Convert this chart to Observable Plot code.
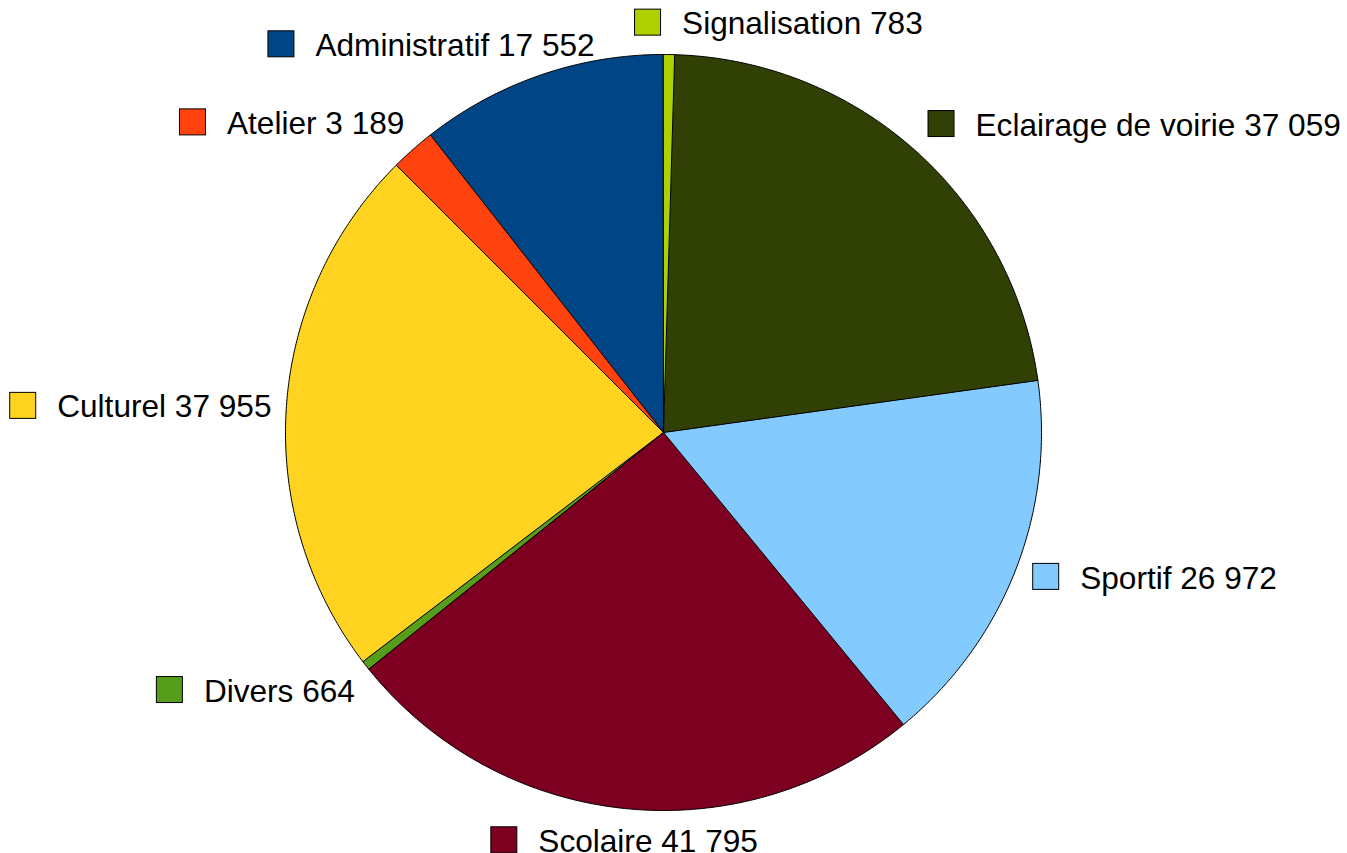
<!DOCTYPE html>
<html>
<head>
<meta charset="utf-8">
<script src="https://cdn.jsdelivr.net/npm/d3@7"></script>
<script src="https://cdn.jsdelivr.net/npm/@observablehq/plot@0.6"></script>
<style>
  html, body { margin: 0; padding: 0; background: #ffffff; }
  #chart { width: 1347px; height: 853px; }
</style>
</head>
<body>
<div id="chart"></div>
<script>
// ---- data (LibreOffice order: counter-clockwise from 12 o'clock) ----
const categories = ["Administratif", "Atelier", "Culturel", "Divers", "Scolaire", "Sportif", "Eclairage de voirie", "Signalisation"];
const values = [17552, 3189, 37955, 664, 41795, 26972, 37059, 783];
const colors = ["#004586", "#ff420e", "#ffd320", "#579d1c", "#7e0021", "#83caff", "#314004", "#aecf00"];

// ---- layout ----
const W = 1347, H = 853;
const CX = 663, CY = 432, R = 378;
const labelDist = 1.05;      // label anchor radius (in radii)
const sq = 26, gap = 21;     // legend square size and gap to text (px)
const trail = -4;            // text box trailing adjustment (px)
const fontSize = 31.6;
const fontFamily = "'Liberation Sans', Arial, sans-serif";
const nudge = { "Signalisation": 107.5, "Administratif": -104.5 }; // collision shifts (px)

const fmt = d3.formatLocale({ decimal: ",", thousands: " ", grouping: [3], currency: ["", " €"] }).format(",d");

const ctx = document.createElement("canvas").getContext("2d");
ctx.font = `${fontSize}px ${fontFamily}`;

const arcs = d3.pie().sort(null).startAngle(0).endAngle(-2 * Math.PI)(values);

// slice polygons in radius units (x right, y down)
const slicePts = arcs.map((a, i) => {
  const n = Math.max(2, Math.ceil(Math.abs(a.endAngle - a.startAngle) / (Math.PI / 360)));
  const pts = [{ x: 0, y: 0 }];
  for (let k = 0; k <= n; k++) {
    const t = a.startAngle + (a.endAngle - a.startAngle) * k / n;
    pts.push({ x: Math.sin(t), y: -Math.cos(t) });
  }
  return pts;
});

// labels
const labelRows = arcs.map((a, i) => {
  const mid = (a.startAngle + a.endAngle) / 2;
  let deg = (mid * 180 / Math.PI) % 360; if (deg < 0) deg += 360;
  const sector = Math.round(deg / 45) % 8;
  const ax = CX + R * labelDist * Math.sin(mid);
  const ay = CY - R * labelDist * Math.cos(mid);
  const text = `${categories[i]} ${fmt(values[i])}`;
  const bw = sq + gap + ctx.measureText(text).width + trail;
  let left, top;
  if ([1, 2, 3].includes(sector)) left = ax;
  else if ([5, 6, 7].includes(sector)) left = ax - bw;
  else left = ax - bw / 2;
  if ([0, 1, 7].includes(sector)) top = ay - sq;
  else if ([3, 4, 5].includes(sector)) top = ay;
  else top = ay - sq / 2;
  left += nudge[categories[i]] || 0;
  const u = v => v / R;
  return {
    text, color: colors[i],
    x1: u(left - CX), x2: u(left + sq - CX),
    y1: u(top - CY), y2: u(top + sq - CY),
    tx: u(left + sq + gap - CX), ty: u(top + sq / 2 - CY)
  };
});

const chart = Plot.plot({
  width: W, height: H,
  margin: 0,
  x: { domain: [-CX / R, (W - CX) / R], range: [0, W], axis: null },
  y: { domain: [-CY / R, (H - CY) / R], range: [0, H], axis: null },
  style: { background: "#ffffff", fontFamily },
  marks: [
    ...slicePts.map((pts, i) => Plot.line(pts, {
      x: "x", y: "y", curve: "linear-closed",
      fill: colors[i], stroke: "#000000", strokeWidth: 1, strokeLinejoin: "miter"
    })),
    Plot.rect(labelRows, { x1: "x1", x2: "x2", y1: "y1", y2: "y2", fill: "color", stroke: "#000000", strokeWidth: 1 }),
    Plot.text(labelRows, { x: "tx", y: "ty", dy: 1.5, text: "text", textAnchor: "start", lineAnchor: "middle", fontSize, fill: "#000000" })
  ],
  color: { type: "identity" }
});
document.getElementById("chart").appendChild(chart);
</script>
</body>
</html>
